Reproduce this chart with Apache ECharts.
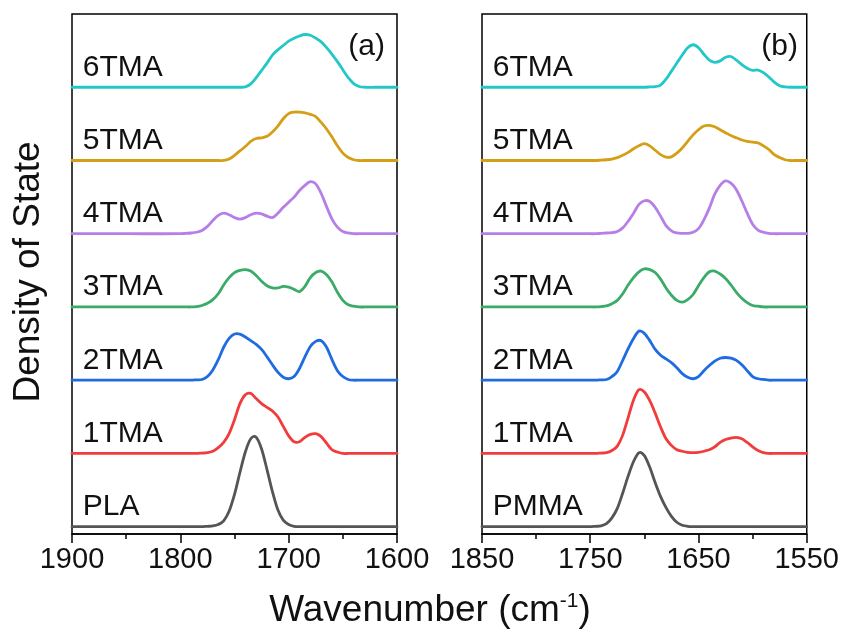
<!DOCTYPE html>
<html><head><meta charset="utf-8">
<script src="https://cdn.jsdelivr.net/npm/echarts@6/dist/echarts.min.js"></script>
<style>html,body{margin:0;padding:0;background:#fff}#c{width:842px;height:632px}</style>
</head><body><div id="c"></div>
<script>
// ---------- Panel (a): wavenumbers (cm-1) ----------
const wnA = [1900,1850,1800,1795,1790,1785,1780,1775,1770,1765,1760,1755,1750,1745,1740,1735,1730,1725,1720,1715,1710,1705,1700,1695,1690,1685,1680,1675,1670,1665,1660,1655,1650,1645,1640,1635,1630,1620,1600];
const aPLA  = [0,0,0,0,0,0,0,0.005,0.01,0.03,0.08,0.21,0.44,0.74,1.02,1.20,1.22,1.06,0.78,0.48,0.23,0.09,0.03,0.005,0,0,0,0,0,0,0,0,0,0,0,0,0,0,0];
const a1TMA = [0,0,0,0,0,0,0.005,0.01,0.03,0.08,0.15,0.27,0.46,0.68,0.80,0.82,0.75,0.68,0.63,0.58,0.50,0.37,0.24,0.16,0.16,0.22,0.26,0.27,0.23,0.14,0.05,0.02,0,0,0,0,0,0,0];
const a2TMA = [0,0,0,0,0,0.005,0.01,0.05,0.14,0.28,0.45,0.57,0.63,0.63,0.59,0.54,0.49,0.42,0.32,0.21,0.11,0.04,0.02,0.05,0.16,0.32,0.46,0.53,0.54,0.45,0.28,0.13,0.05,0.01,0,0,0,0,0];
const a3TMA = [0,0,0,0,0,0.005,0.02,0.05,0.10,0.18,0.30,0.40,0.47,0.50,0.51,0.49,0.43,0.35,0.29,0.26,0.26,0.28,0.27,0.24,0.21,0.28,0.40,0.47,0.49,0.44,0.34,0.20,0.09,0.03,0.01,0,0,0,0];
const a4TMA = [0,0,0,0.005,0.01,0.02,0.045,0.10,0.18,0.25,0.28,0.26,0.22,0.20,0.22,0.26,0.28,0.27,0.24,0.22,0.28,0.36,0.43,0.50,0.59,0.66,0.71,0.68,0.55,0.37,0.20,0.09,0.03,0.01,0,0,0,0,0];
const a5TMA = [0,0,0,0,0,0,0,0,0,0,0,0.02,0.07,0.13,0.19,0.26,0.30,0.31,0.33,0.39,0.47,0.57,0.64,0.66,0.66,0.65,0.63,0.60,0.52,0.43,0.32,0.20,0.10,0.04,0.01,0,0,0,0];
const a6TMA = [0,0,0,0,0,0,0,0,0,0,0,0,0,0,0.005,0.045,0.13,0.23,0.33,0.44,0.51,0.57,0.63,0.67,0.70,0.72,0.71,0.67,0.62,0.54,0.45,0.35,0.24,0.13,0.05,0.01,0,0,0];

// ---------- Panel (b): wavenumbers (cm-1) ----------
const wnB = [1850,1800,1770,1765,1760,1755,1750,1745,1740,1735,1730,1725,1720,1715,1710,1705,1700,1695,1690,1685,1680,1675,1670,1665,1660,1655,1650,1645,1640,1635,1630,1625,1620,1615,1610,1605,1600,1595,1590,1585,1580,1575,1570,1565,1560,1555,1550];
const bPMMA = [0,0,0,0,0,0,0,0.005,0.01,0.04,0.12,0.25,0.46,0.69,0.89,1.01,0.97,0.81,0.60,0.41,0.26,0.14,0.06,0.02,0.005,0,0,0,0,0,0,0,0,0,0,0,0,0,0,0,0,0,0,0,0,0,0];
const b1TMA = [0,0,0,0,0,0,0,0,0.005,0.01,0.04,0.10,0.25,0.49,0.73,0.87,0.84,0.72,0.55,0.36,0.20,0.11,0.05,0.03,0.015,0.01,0.015,0.03,0.05,0.09,0.15,0.19,0.21,0.22,0.20,0.15,0.09,0.04,0.01,0,0,0,0,0,0,0,0];
const b2TMA = [0,0,0,0,0,0,0,0,0.005,0.01,0.05,0.12,0.27,0.43,0.57,0.67,0.64,0.54,0.42,0.34,0.29,0.24,0.17,0.09,0.04,0.02,0.05,0.13,0.20,0.26,0.30,0.31,0.30,0.27,0.21,0.13,0.05,0.02,0.01,0,0,0,0,0,0,0,0];
const b3TMA = [0,0,0,0,0,0,0,0,0.005,0.015,0.045,0.09,0.18,0.30,0.40,0.48,0.52,0.51,0.47,0.38,0.26,0.16,0.09,0.065,0.10,0.17,0.29,0.40,0.48,0.49,0.45,0.39,0.30,0.20,0.12,0.06,0.02,0.01,0,0,0,0,0,0,0,0,0];
const b4TMA = [0,0,0,0,0,0,0,0,0.005,0.01,0.015,0.03,0.08,0.17,0.28,0.40,0.45,0.44,0.36,0.24,0.11,0.04,0.01,0.005,0.005,0.02,0.07,0.19,0.35,0.54,0.66,0.72,0.69,0.60,0.45,0.28,0.13,0.05,0.02,0.005,0,0,0,0,0,0,0];
const b5TMA = [0,0,0,0,0,0,0,0,0.005,0.01,0.02,0.04,0.07,0.11,0.16,0.20,0.23,0.20,0.14,0.08,0.045,0.05,0.10,0.17,0.26,0.35,0.42,0.47,0.48,0.46,0.42,0.38,0.34,0.31,0.28,0.26,0.25,0.24,0.20,0.15,0.08,0.04,0.01,0,0,0,0];
const b6TMA = [0,0,0,0,0,0,0,0,0,0,0,0,0,0,0,0,0,0.005,0.01,0.03,0.11,0.22,0.33,0.44,0.54,0.58,0.54,0.45,0.37,0.34,0.36,0.41,0.42,0.37,0.31,0.26,0.23,0.235,0.20,0.14,0.07,0.02,0.005,0,0,0,0];

const namesA = ['PLA','1TMA','2TMA','3TMA','4TMA','5TMA','6TMA'];
const namesB = ['PMMA','1TMA','2TMA','3TMA','4TMA','5TMA','6TMA'];
const seriesA = [aPLA,a1TMA,a2TMA,a3TMA,a4TMA,a5TMA,a6TMA];
const seriesB = [bPMMA,b1TMA,b2TMA,b3TMA,b4TMA,b5TMA,b6TMA];
const offsets = [0,1,2,3,4,5,6];
const ticksA = [1900,1800,1700,1600];
const ticksB = [1850,1750,1650,1550];
const colors = ['#555555','#f23c3c','#1f6be2','#3aab68','#b67fe8','#d49f17','#22c8c8'];

const FONT = "'Liberation Sans', Arial, Helvetica, sans-serif";
const chart = echarts.init(document.getElementById('c'), null, {renderer:'canvas'});

function xAxisFor(gi, ticks){
  const mn = Math.min(...ticks), mx = Math.max(...ticks);
  return {
    type:'value', gridIndex:gi, min:mn, max:mx, inverse:true, interval:100,
    axisLine:{show:true, onZero:false, lineStyle:{color:'#000', width:1.5}},
    axisTick:{show:true, inside:false, length:9, lineStyle:{color:'#000', width:1.5}},
    minorTick:{show:true, splitNumber:2, length:5, lineStyle:{color:'#000', width:1.5}},
    axisLabel:{fontSize:29, color:'#111', margin:11, fontFamily:FONT, formatter:v=>String(v)},
    splitLine:{show:false}, minorSplitLine:{show:false}
  };
}
function yAxisFor(gi){
  return {type:'value', gridIndex:gi, min:-0.1, max:7.0,
    axisLine:{show:false}, axisTick:{show:false}, axisLabel:{show:false}, splitLine:{show:false}};
}

// smooth curve through the data points (cubic Hermite in x), points mapped by the axes
function curvePath(api, wn, vals, off){
  const P = wn.map((w,i)=>api.coord([w, vals[i] + off]));
  const n = P.length;
  const m = P.map((p,i)=>{
    if (i===0 || i===n-1) return 0;
    return (P[i+1][1]-P[i-1][1])/(P[i+1][0]-P[i-1][0]);
  });
  let d = 'M' + P[0][0] + ' ' + P[0][1];
  for (let i=0; i<n-1; i++){
    const h = (P[i+1][0]-P[i][0])/3;
    d += ' C' + (P[i][0]+h) + ' ' + (P[i][1]+m[i]*h) + ' ' + (P[i+1][0]-h) + ' ' + (P[i+1][1]-m[i+1]*h) + ' ' + P[i+1][0] + ' ' + P[i+1][1];
  }
  return d;
}

const series = [];
function addPanel(gi, wn, sets, names){
  sets.forEach((vals, k) => {
    series.push({
      type:'custom', coordinateSystem:'cartesian2d', xAxisIndex:gi, yAxisIndex:gi, name:names[k]+'_'+gi,
      data: wn.map((w,i)=>[w, vals[i] + offsets[k]]),
      silent:true, z:3,
      renderItem: (params, api) => {
        if (params.dataIndex !== 0) return null;
        return {type:'path', shape:{pathData: curvePath(api, wn, vals, offsets[k])},
          style:{stroke:colors[k], lineWidth:2.8, fill:'none', lineJoin:'round', lineCap:'round'}};
      }
    });
  });
}
addPanel(0, wnA, seriesA, namesA);
addPanel(1, wnB, seriesB, namesB);

const graphics = [
  {type:'text', x:385, y:47, style:{text:'(a)', fontSize:30, fill:'#111', fontFamily:FONT, textAlign:'right', textVerticalAlign:'middle'}},
  {type:'text', x:798, y:47, style:{text:'(b)', fontSize:30, fill:'#111', fontFamily:FONT, textAlign:'right', textVerticalAlign:'middle'}},
  {type:'text', x:29, y:272, rotation:Math.PI/2, style:{text:'Density of State', fontSize:37, fill:'#111', fontFamily:FONT, textAlign:'center', textVerticalAlign:'middle'}},
  {type:'text', x:430, y:611, style:{
    text:'{a|Wavenumber (cm}{b|-1}{a|)}', textAlign:'center', textVerticalAlign:'middle', fill:'#111',
    rich:{a:{fontSize:37, fontFamily:FONT, fill:'#111', lineHeight:40}, b:{fontSize:21, fontFamily:FONT, fill:'#111', verticalAlign:'top', lineHeight:22}}
  }}
];

chart.setOption({
  animation:false,
  backgroundColor:'#fff',
  grid:[
    {left:72, top:14, width:325, height:520, show:true, borderColor:'#000', borderWidth:1.5, backgroundColor:'transparent'},
    {left:482, top:14, width:325, height:520, show:true, borderColor:'#000', borderWidth:1.5, backgroundColor:'transparent'}
  ],
  xAxis:[xAxisFor(0, ticksA), xAxisFor(1, ticksB)],
  yAxis:[yAxisFor(0), yAxisFor(1)],
  series: series,
  graphic: graphics
});

// curve labels, placed through the chart's own coordinate system
function labelsFor(gi, names, xw){
  return names.map((n,k)=>{
    const p = chart.convertToPixel({gridIndex:gi}, [xw, offsets[k] + 0.27]);
    return {type:'text', x:p[0], y:p[1], style:{text:n, fontSize:30, fill:'#111', fontFamily:FONT, textAlign:'left', textVerticalAlign:'middle'}};
  });
}
chart.setOption({graphic: graphics.concat(labelsFor(0, namesA, 1890), labelsFor(1, namesB, 1840))});
</script></body></html>
